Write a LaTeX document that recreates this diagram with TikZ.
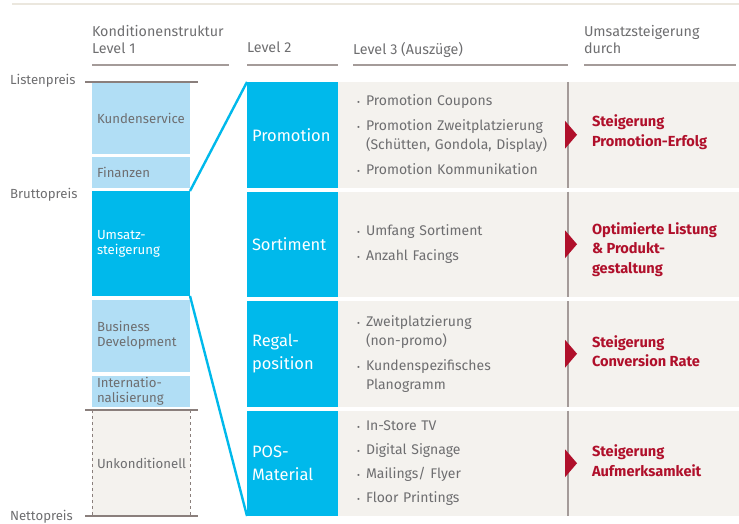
\documentclass[tikz,border=0pt]{standalone}
\usepackage{fontspec}
\setmainfont{Fira Sans}
\usepackage{xcolor}
\usepackage{tikz}
\usetikzlibrary{positioning,calc}

\definecolor{paleblue}{HTML}{B1DEF5}
\definecolor{cyanbox}{HTML}{00B9EB}
\definecolor{sand}{HTML}{F4F2EE}
\definecolor{rulegray}{HTML}{A49B99}
\definecolor{dashgray}{HTML}{8A7F7C}
\definecolor{txtgray}{HTML}{6E6E70}
\definecolor{darkred}{HTML}{B0102B}
\definecolor{topline}{HTML}{EBE7DE}

% bullet item and hanging continuation line
\newcommand{\itm}{\makebox[9pt][l]{\fontsize{9}{9}\selectfont\textbullet}}
\newcommand{\cnt}{\hspace*{9pt}}

\begin{document}
\begin{tikzpicture}[x=1pt, y=-1pt,
  every node/.style={inner sep=0pt, outer sep=0pt, text=txtgray, font=\fontsize{13.2}{15}\selectfont},
  lvlone/.style={anchor=north west, fill=paleblue, minimum width=98pt, text width=88pt, inner xsep=5pt, align=left},
  lvltwo/.style={anchor=north west, fill=cyanbox, text=white, minimum width=91pt, minimum height=105.5pt, text width=81pt, inner xsep=5pt, align=left, font=\fontsize{16.5}{22.5}\selectfont},
  lvlthree/.style={fill=sand, minimum width=401pt, minimum height=105.5pt, text width=363pt, inner xsep=19pt, align=left, font=\fontsize{14}{19}\selectfont},
  gain/.style={text=darkred, align=left, font=\bfseries\fontsize{14.6}{19.5}\selectfont},
  hdr/.style={anchor=north west, align=left, font=\fontsize{14.3}{17}\selectfont},
  hdrule/.style={draw=rulegray, line width=2pt},
  pricerule/.style={draw=dashgray, line width=1.2pt},
  fan/.style={draw=cyanbox, line width=2.4pt},
  sep/.style={draw=rulegray, line width=1.5pt}]
  \useasboundingbox (0,0) rectangle (739,524);
  \draw[draw=topline, line width=2pt] (12,4) -- (739,4);

  % column heads
  \node (h1) [hdr] at (92,25) {Konditionenstruktur\\Level 1};
  \node (h2) [hdr] at (247,42) {Level 2};
  \node (h3) [hdr] at (353,42) {Level 3 (Auszüge)};
  \node (h4) [hdr] at (584,25) {Umsatzsteigerung\\durch};
  \draw[hdrule] (92,65) -- (229,65);
  \draw[hdrule] (247,65) -- (338,65);
  \draw[hdrule] (353,65) -- (568,65);
  \draw[hdrule] (584,65) -- (736,65);

  % level 1
  \node (ks) [lvlone, minimum height=72pt] at (92,82) {Kundenservice};
  \node (fin) [lvlone, minimum height=30pt, below=3.5pt of ks] {Finanzen};
  \node (ums) [lvlone, fill=cyanbox, text=white, minimum height=105pt, below=3.5pt of fin] {Umsatz-\\steigerung};
  \node (bd) [lvlone, minimum height=72.5pt, below=3.5pt of ums] {Business\\Development};
  \node (int) [lvlone, minimum height=31pt, below=3.5pt of bd] {Internatio-\\nalisierung};
  \node (unk) [lvlone, fill=sand, minimum height=106pt] at (92,410) {Unkonditionell};
  \draw[dashgray, dashed, line width=1pt] (unk.north west) -- (unk.south west);
  \draw[dashgray, dashed, line width=1pt] (unk.north east) -- (unk.south east);

  % price levels
  \node (lp) [anchor=west] at (10,81) {Listenpreis};
  \node (bp) [anchor=west] at (10,195) {Bruttopreis};
  \node (np) [anchor=west] at (10,517) {Nettopreis};
  \draw[pricerule] ([xshift=-7pt]ks.north west) -- ([xshift=8pt]ks.north east);
  \draw[pricerule] ([xshift=-7pt]unk.north west) -- ([xshift=8pt]unk.north east);
  \draw[pricerule] ([xshift=-7pt]unk.south west) -- ([xshift=8pt]unk.south east);

  % level 2
  \node (promo) [lvltwo] at (247,82) {Promotion};
  \node (sort) [lvltwo, below=4pt of promo] {Sortiment};
  \node (regal) [lvltwo, below=4pt of sort] {Regal-\\position};
  \node (pos) [lvltwo, below=4pt of regal] {POS-\\Material};

  % level 3
  \node (la) [lvlthree, right=0pt of promo] {\itm Promotion Coupons\\[6pt]
    \itm Promotion Zweitplatzierung\\ \cnt (Schütten, Gondola, Display)\\[6pt]
    \itm Promotion Kommunikation};
  \node (lb) [lvlthree, right=0pt of sort] {\itm Umfang Sortiment\\[6pt]
    \itm Anzahl Facings};
  \node (lc) [lvlthree, right=0pt of regal] {\itm Zweitplatzierung\\ \cnt (non-promo)\\[6pt]
    \itm Kundenspezifisches\\ \cnt Planogramm};
  \node (ld) [lvlthree, right=0pt of pos] {\itm In-Store TV\\[4.8pt]
    \itm Digital Signage\\[4.8pt]
    \itm Mailings/ Flyer\\[4.8pt]
    \itm Floor Printings};

  % separators with red markers
  \draw[sep] ([xshift=230pt]la.north west) -- ([xshift=230pt]la.south west);
  \draw[sep] ([xshift=230pt]lb.north west) -- ([xshift=230pt]lb.south west);
  \draw[sep] ([xshift=230pt]lc.north west) -- ([xshift=230pt]lc.south west);
  \draw[sep] ([xshift=230pt]ld.north west) -- ([xshift=230pt]ld.south west);
  \fill[darkred] ([xshift=227pt,yshift=14pt]la.west) -- ([xshift=239pt]la.west) -- ([xshift=227pt,yshift=-14pt]la.west) -- cycle;
  \fill[darkred] ([xshift=227pt,yshift=14pt]lb.west) -- ([xshift=239pt]lb.west) -- ([xshift=227pt,yshift=-14pt]lb.west) -- cycle;
  \fill[darkred] ([xshift=227pt,yshift=14pt]lc.west) -- ([xshift=239pt]lc.west) -- ([xshift=227pt,yshift=-14pt]lc.west) -- cycle;
  \fill[darkred] ([xshift=227pt,yshift=14pt]ld.west) -- ([xshift=239pt]ld.west) -- ([xshift=227pt,yshift=-14pt]ld.west) -- cycle;

  \node (ga) [gain, right=254pt of la.west, yshift=2.5pt] {Steigerung\\Promotion-Erfolg};
  \node (gb) [gain, right=254pt of lb.west, yshift=-5pt] {Optimierte Listung\\\& Produkt-\\gestaltung};
  \node (gc) [gain, right=254pt of lc.west, yshift=2.5pt] {Steigerung\\Conversion Rate};
  \node (gd) [gain, right=254pt of ld.west, yshift=2.5pt] {Steigerung\\Aufmerksamkeit};

  % zoom from level 1 into level 2
  \draw[fan] (ums.north east) -- (promo.north west);
  \draw[fan] (ums.south east) -- (pos.south west);
\end{tikzpicture}
\end{document}
